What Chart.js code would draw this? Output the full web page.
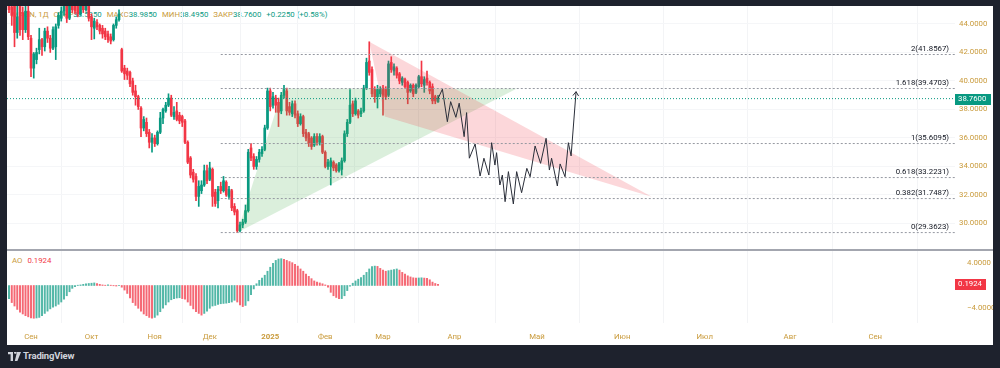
<!DOCTYPE html>
<html>
<head>
<meta charset="utf-8">
<script src="https://cdn.jsdelivr.net/npm/chart.js@4.4.1/dist/chart.umd.min.js"></script>
<style>
    html, body { margin: 0; padding: 0; width: 1000px; height: 368px; overflow: hidden; background: #1e222d; font-family: Roboto, "Liberation Sans", sans-serif; }
    #panel { position: absolute; left: 7px; top: 6px; width: 986px; height: 339px; background: #ffffff; }
    #mainChart { position: absolute; left: 0; top: 0; z-index: 2; }
    #aoChart { position: absolute; left: 0; top: 245px; z-index: 2; }
    #sep { position: absolute; left: 0; top: 243px; width: 986px; height: 2px; background: #a3a6af; z-index: 3; }
    .legend { position: absolute; font-size: 7.8px; line-height: 10px; white-space: nowrap; color: #c99a3a; z-index: 1; }
    .legend span { margin-right: 5px; }
    .val { color: #089981; }
    #logo { position: absolute; left: 8px; top: 350px; color: #d1d4dc; font-size: 9.5px; font-weight: bold; letter-spacing: -0.2px; }
    #logo svg { vertical-align: -2px; margin-right: 2px; }
</style>
</head>
<body>
<div id="panel">
    <div class="legend" style="left:5px; top:4px;">
        <span>MAGN, 1Д</span><span>ОТКР<span class="val" style="margin:0">38.5350</span></span><span>МАКС<span class="val" style="margin:0">38.9850</span></span><span>МИН<span class="val" style="margin:0">38.4950</span></span><span>ЗАКР<span class="val" style="margin:0">38.7600</span></span><span class="val">+0.2250 (+0.58%)</span>
    </div>
    <div class="legend" style="left:5px; top:250px;">
        <span>AO</span><span style="color:#f23645">0.1924</span>
    </div>
    <canvas id="mainChart" width="986" height="244"></canvas>
    <div id="sep"></div>
    <canvas id="aoChart" width="986" height="94"></canvas>
</div>
<div id="logo"><svg width="13" height="9" viewBox="0 0 13 9"><path d="M0 0h5v9H2.6V2.3H0z M6 0.5a1.3 1.3 0 1 1 0 .01z M9 0h4l-3.6 9H6.8z" fill="#d1d4dc"/></svg>TradingView</div>

<script>
// свечи (дневные), индекс = номер бара
const candleOpen = [45.8, 45.2, 45.6, 43.4, 45.3, 44.8, 43.6, 44.9, 43.0, 40.9,
    41.5, 42.2, 42.9, 42.4, 43.5, 43.0, 42.3, 42.4, 43.9, 44.4,
    44.9, 45.6, 44.4, 45.5, 45.4, 45.3, 44.7, 45.5, 45.0, 45.6,
    44.5, 43.7, 44.1, 43.9, 43.7, 43.5, 43.3, 43.1, 42.9, 43.9,
    44.3, 42.2, 40.9, 40.7, 40.6, 40.0, 39.3, 38.9, 38.1, 36.7,
    37.1, 36.4, 35.7, 36.0, 35.6, 36.4, 37.4, 37.9, 38.3, 38.8,
    37.5, 37.9, 37.6, 37.5, 37.2, 35.7, 34.6, 33.6, 33.3, 31.9,
    32.3, 32.7, 33.7, 33.1, 33.8, 32.2, 31.6, 32.6, 32.3, 32.9,
    31.9, 32.3, 31.2, 30.9, 29.5, 29.9, 30.1, 30.9, 35.3, 34.7,
    34.0, 34.5, 34.9, 35.2, 36.7, 39.3, 38.3, 38.8, 38.5, 37.9,
    39.0, 39.3, 38.2, 37.7, 38.4, 37.7, 37.0, 37.5, 36.4, 36.3,
    36.0, 35.5, 36.1, 35.7, 36.1, 35.0, 34.0, 34.0, 34.3, 34.1,
    33.7, 33.8, 34.4, 36.3, 37.1, 38.4, 37.7, 37.9, 37.7, 37.9,
    39.5, 41.4, 40.8, 39.4, 38.9, 39.1, 39.5, 39.4, 39.0, 41.3,
    40.7, 40.9, 40.5, 39.9, 40.1, 39.9, 39.3, 39.7, 39.2, 39.6,
    40.3, 39.7, 40.2, 39.9, 39.6, 38.9, 38.535];
const candleHigh = [46.2, 45.9, 45.9, 45.4, 45.5, 45.2, 45.5, 45.4, 43.2, 42.0,
    42.3, 43.7, 43.0, 43.7, 43.8, 43.2, 43.8, 44.0, 44.8, 45.2,
    46.0, 45.9, 46.0, 46.1, 45.9, 45.8, 46.0, 46.2, 46.0, 45.9,
    44.7, 44.4, 44.3, 44.0, 43.9, 43.7, 43.5, 43.3, 44.0, 44.5,
    45.0, 42.3, 41.1, 40.9, 40.7, 40.2, 39.7, 39.0, 38.2, 37.5,
    37.4, 36.6, 36.3, 36.2, 36.5, 37.8, 38.1, 38.5, 39.1, 39.0,
    38.2, 38.5, 37.8, 37.6, 37.3, 35.8, 34.7, 33.8, 33.5, 33.0,
    33.0, 34.1, 34.1, 34.3, 33.9, 32.4, 32.6, 32.9, 33.3, 33.0,
    32.6, 32.4, 31.4, 31.0, 30.1, 30.3, 31.3, 35.2, 35.6, 34.9,
    34.7, 35.2, 35.4, 36.9, 39.5, 39.5, 39.2, 39.0, 38.8, 39.2,
    39.7, 39.5, 38.5, 38.6, 38.6, 37.9, 37.7, 37.6, 36.6, 36.4,
    36.1, 36.3, 36.3, 36.3, 36.2, 35.1, 34.5, 34.6, 34.4, 34.2,
    34.3, 34.6, 36.5, 37.3, 39.4, 38.6, 38.8, 38.0, 38.1, 39.7,
    41.6, 42.75, 41.0, 39.6, 39.7, 39.6, 39.7, 39.6, 41.4, 41.7,
    41.2, 41.0, 40.6, 40.3, 40.2, 40.0, 39.8, 39.8, 39.8, 40.4,
    41.4, 40.3, 40.7, 40.0, 39.8, 39.0, 38.985];
const candleLow = [44.8, 43.9, 42.4, 43.0, 43.2, 42.9, 43.4, 42.9, 40.3, 40.2,
    41.2, 41.9, 41.8, 42.1, 42.7, 42.0, 42.2, 41.5, 43.7, 44.2,
    44.6, 44.1, 44.3, 44.8, 44.7, 44.5, 44.6, 44.8, 44.9, 44.2,
    42.9, 42.95, 43.6, 43.3, 43.0, 42.9, 42.7, 42.6, 42.8, 43.7,
    44.2, 40.6, 40.1, 40.1, 39.6, 39.0, 38.3, 38.0, 36.1, 36.5,
    36.1, 35.3, 35.0, 35.4, 35.5, 36.3, 37.0, 37.8, 38.2, 37.5,
    37.3, 37.2, 37.0, 36.8, 35.6, 34.2, 33.2, 32.9, 31.6, 31.2,
    32.1, 32.6, 32.8, 33.0, 31.2, 31.2, 31.1, 32.1, 32.2, 31.9,
    31.7, 30.9, 30.6, 29.3623, 29.4, 29.7, 30.0, 30.8, 34.4, 33.8,
    33.8, 34.3, 34.7, 35.1, 36.6, 37.9, 38.1, 37.8, 36.8, 37.7,
    38.8, 37.6, 37.6, 37.5, 37.4, 36.8, 36.9, 36.1, 35.8, 35.4,
    35.2, 35.4, 35.5, 35.5, 34.9, 33.9, 33.8, 32.7, 33.7, 33.6,
    33.6, 33.4, 34.3, 36.1, 37.0, 37.5, 37.6, 37.4, 37.5, 37.8,
    39.4, 40.4, 38.9, 38.5, 38.1, 38.9, 37.6, 38.7, 38.9, 40.6,
    40.4, 40.2, 39.8, 39.7, 39.5, 38.4, 39.2, 38.9, 39.1, 39.5,
    39.6, 39.2, 39.7, 39.1, 38.4, 38.4, 38.495];
const candleClose = [45.0, 44.6, 43.4, 44.5, 43.6, 43.6, 44.9, 43.1, 40.9, 41.9,
    42.0, 42.9, 42.4, 43.5, 43.0, 42.3, 43.6, 43.8, 44.6, 44.9,
    45.6, 44.4, 45.5, 45.0, 44.9, 44.7, 45.5, 45.0, 45.6, 44.4,
    43.8, 44.2, 43.8, 43.5, 43.3, 43.1, 42.9, 42.8, 43.9, 44.3,
    44.7, 40.7, 40.5, 40.4, 39.8, 39.2, 38.9, 38.2, 36.7, 37.3,
    36.3, 35.7, 36.0, 35.6, 36.4, 37.4, 38.0, 38.3, 38.8, 37.6,
    37.8, 37.3, 37.2, 37.1, 35.7, 34.3, 33.4, 33.1, 31.9, 32.6,
    32.7, 33.7, 33.0, 33.9, 31.9, 31.4, 32.4, 32.3, 33.0, 32.0,
    32.4, 31.1, 30.8, 29.5, 29.9, 30.1, 30.9, 35.0, 34.6, 34.0,
    34.5, 35.0, 35.2, 36.7, 39.3, 38.2, 38.9, 38.3, 37.8, 39.0,
    39.4, 37.9, 37.8, 38.4, 37.6, 37.0, 37.5, 36.3, 36.0, 35.6,
    35.4, 36.1, 35.7, 36.1, 35.0, 34.0, 34.3, 34.4, 33.9, 33.7,
    34.2, 34.4, 36.3, 37.1, 38.3, 37.7, 38.6, 37.6, 37.9, 39.5,
    41.3, 40.6, 39.1, 38.9, 39.4, 39.4, 39.0, 38.9, 41.2, 40.8,
    41.0, 40.4, 40.0, 40.2, 39.6, 39.2, 39.7, 39.1, 39.7, 40.3,
    39.8, 40.1, 39.9, 39.3, 38.6, 38.6, 38.76];

// Awesome Oscillator
const aoValues = [-2.3, -3.0, -3.6, -4.2, -4.7, -5.0, -5.3, -5.5, -5.7, -5.75,
    -5.7, -5.6, -5.3, -4.9, -4.5, -4.1, -3.8, -3.6, -3.3, -2.9,
    -2.4, -1.8, -1.1, -0.5, -0.2, 0.05, 0.1, 0.2, 0.3, 0.35,
    0.4, 0.45, 0.35, 0.2, 0.1, 0.05, 0.1, 0.05, -0.05, -0.1,
    -0.05, -0.3, -0.8, -1.4, -2.2, -3.0, -3.5, -4.0, -4.5, -5.0,
    -5.3, -5.6, -5.75, -5.6, -5.2, -4.6, -4.0, -3.4, -2.9, -2.5,
    -2.3, -2.2, -2.15, -2.3, -2.4, -2.9, -3.5, -4.1, -4.6, -4.9,
    -5.2, -4.9, -4.5, -4.0, -3.6, -3.5, -3.3, -3.2, -3.15, -3.1,
    -3.0, -2.9, -2.6, -2.9, -3.4, -3.7, -3.5, -2.7, -1.6, -0.6,
    0.3, 0.9, 1.3, 1.8, 2.5, 3.2, 3.9, 4.4, 4.65, 4.7,
    4.6, 4.4, 4.2, 4.0, 3.7, 3.4, 2.9, 2.5, 2.0, 1.6,
    1.2, 0.8, 0.6, 0.45, 0.3, 0.1, -0.3, -1.2, -1.8, -2.1,
    -2.3, -2.3, -1.8, -0.9, -0.1, 0.4, 0.8, 1.1, 1.4, 1.8,
    2.3, 2.9, 3.3, 3.4, 3.35, 3.0, 2.7, 2.5, 2.6, 2.7,
    2.8, 2.9, 2.7, 2.3, 2.0, 1.7, 1.5, 1.35, 1.3, 1.32,
    1.35, 1.3, 1.25, 1.0, 0.6, 0.35, 0.1924];

const priceTicks = [30, 32, 34, 36, 38, 40, 42, 44];
const aoTicks = [4, -4];
const monthLabels = ["Сен", "Окт", "Ноя", "Дек", "2025", "Фев", "Мар", "Апр", "Май", "Июн", "Июл", "Авг", "Сен"];
const monthIdx = [8, 30, 53, 73, 95, 115, 136, 162, 192, 223, 253, 284, 315];

// фибо-расширение
const fibLevels = ["0", "0.382", "0.618", "1", "1.618", "2"];
const fibPrices = [29.3623, 31.7487, 33.2231, 35.6095, 39.4703, 41.8567];
const fibStart = 77;

// треугольники
const greenTriIdx = [83, 99.6, 184.7, 83];
const greenTriPrice = [29.3623, 39.4703, 39.4703, 29.3623];
const redTriIdx = [131, 136.7, 233.7, 131];
const redTriPrice = [42.75, 37.5, 31.88, 42.75];

// прогнозная траектория
const pathIdx = [156, 157.6, 159.4, 160.6, 162.5, 163.7, 165.5, 166.4, 167.4, 169.5,
    171.3, 172.7, 174.5, 175.5, 176.7, 177.3, 178.5, 179.4, 180.4, 181.6,
    183.4, 184.6, 186.4, 188.3, 189.5, 191.3, 193.3, 195.3, 196.5, 197.3,
    199.4, 200.4, 202.2, 203.4, 204.4, 206.2];
const pathPrice = [38.76, 39.42, 37.14, 38.55, 37.45, 38.44, 36.09, 37.78, 34.58, 35.58,
    33.33, 34.58, 33.40, 35.67, 34.10, 34.97, 32.70, 33.40, 31.53, 33.64,
    31.37, 33.64, 32.16, 33.87, 33.28, 35.44, 34.22, 35.98, 33.75, 34.58,
    32.63, 34.18, 33.28, 35.67, 34.74, 39.25];

const lastPrice = 38.76;
const lastAO = 0.1924;

const xMin = -0.73;
const xMax = 344;
const UP = "#089981";
const DOWN = "#f23645";
const GOLD = "#c99a3a";
const FONT = "Roboto, 'Liberation Sans', sans-serif";
const FSIZE = 7.8;

function pts(xs, ys) {
    return xs.map(function (x, i) { return {x: x, y: ys[i]}; });
}

function fixWidth(w) {
    return function (scale) {
        scale.width = w;
        scale.paddingTop = 0;
        scale.paddingBottom = 0;
    };
}

function xScale(showLabels) {
    return {
        type: "linear",
        min: xMin,
        max: xMax,
        offset: false,
        border: {display: false},
        grid: {color: "#f3f4f6", drawTicks: false},
        afterBuildTicks: function (scale) {
            scale.ticks = monthIdx.map(function (v) { return {value: v}; });
        },
        afterFit: function (scale) {
            scale.height = showLabels ? 22 : 0;
            scale.paddingLeft = 0;
            scale.paddingRight = 0;
        },
        ticks: {
            display: showLabels,
            padding: 9,
            maxRotation: 0,
            autoSkip: false,
            color: GOLD,
            font: function (c) {
                let bold = c.tick && c.tick.value === monthIdx[4];
                return {family: FONT, size: FSIZE, weight: bold ? "bold" : "normal"};
            },
            callback: function (value) {
                let k = monthIdx.indexOf(value);
                return k >= 0 ? monthLabels[k] : "";
            }
        }
    };
}

function priceTag(id, scaleId, value, text, color, w) {
    return {
        id: id,
        afterDraw: function (chart) {
            const s = chart.scales[scaleId];
            const ctx = chart.ctx;
            const yy = Math.round(s.getPixelForValue(value));
            ctx.save();
            ctx.fillStyle = color;
            ctx.fillRect(s.left, yy - 5, w, 11);
            ctx.fillStyle = "#ffffff";
            ctx.font = FSIZE + "px " + FONT;
            ctx.textAlign = "left";
            ctx.textBaseline = "middle";
            ctx.fillText(text, s.left + 3, yy + 0.5);
            ctx.restore();
        }
    };
}

const fibLabelsPlugin = {
    id: "fibLabels",
    afterDatasetsDraw: function (chart) {
        const ctx = chart.ctx;
        const y = chart.scales.y;
        ctx.save();
        ctx.font = FSIZE + "px " + FONT;
        ctx.fillStyle = "#131722";
        ctx.textAlign = "right";
        ctx.textBaseline = "bottom";
        fibPrices.forEach(function (p, i) {
            ctx.fillText(fibLevels[i] + "(" + p.toFixed(4) + ")", chart.chartArea.right - 6, y.getPixelForValue(p) - 2);
        });
        ctx.restore();
    }
};

// стрелка на конце траектории
const arrowPlugin = {
    id: "arrowHead",
    afterDatasetsDraw: function (chart) {
        const idx = chart.data.datasets.findIndex(function (d) { return d.label === "path"; });
        const p = chart.getDatasetMeta(idx).data;
        const a = p[p.length - 2], b = p[p.length - 1];
        const ang = Math.atan2(b.y - a.y, b.x - a.x);
        const ctx = chart.ctx;
        ctx.save();
        ctx.strokeStyle = "#2a2e39";
        ctx.lineWidth = 1;
        ctx.beginPath();
        ctx.moveTo(b.x - 5 * Math.cos(ang - 0.6), b.y - 5 * Math.sin(ang - 0.6));
        ctx.lineTo(b.x, b.y);
        ctx.lineTo(b.x - 5 * Math.cos(ang + 0.6), b.y - 5 * Math.sin(ang + 0.6));
        ctx.stroke();
        ctx.restore();
    }
};

function mainChart() {
    let colors = candleClose.map(function (c, i) { return c >= candleOpen[i] ? UP : DOWN; });
    let wicks = candleLow.map(function (l, i) { return {x: i, y: [l, candleHigh[i]]}; });
    let bodies = candleOpen.map(function (o, i) { return {x: i, y: [o, candleClose[i]]}; });

    let datasets = [{
        type: "bar", label: "wicks", data: wicks, backgroundColor: colors,
        barThickness: 1, grouped: false, order: 10
    }, {
        type: "bar", label: "bodies", data: bodies, backgroundColor: colors,
        barThickness: 2, grouped: false, order: 9
    }, {
        type: "line", label: "greenTri", data: pts(greenTriIdx, greenTriPrice),
        fill: "shape", backgroundColor: "rgba(76, 175, 80, 0.2)", borderColor: "transparent",
        borderWidth: 1, pointRadius: 0, order: 6
    }, {
        type: "line", label: "redTri", data: pts(redTriIdx, redTriPrice),
        fill: "shape", backgroundColor: "rgba(242, 54, 69, 0.2)", borderColor: "transparent",
        borderWidth: 1, pointRadius: 0, order: 5
    }];

    fibPrices.forEach(function (p) {
        datasets.push({
            type: "line", label: "fib", data: [{x: fibStart, y: p}, {x: xMax, y: p}],
            borderColor: "#9598a1", borderWidth: 1, borderDash: [2, 2], pointRadius: 0, fill: false, order: 3
        });
    });

    datasets.push({
        type: "line", label: "last", data: [{x: xMin, y: lastPrice}, {x: xMax, y: lastPrice}],
        borderColor: UP, borderWidth: 1, borderDash: [1, 2], pointRadius: 0, fill: false, order: 3
    });
    datasets.push({
        type: "line", label: "path", data: pts(pathIdx, pathPrice),
        borderColor: "#2a2e39", borderWidth: 1, pointRadius: 0, fill: false, order: 1
    });

    new Chart(document.getElementById("mainChart").getContext("2d"), {
        type: "bar",
        data: {datasets: datasets},
        options: {
            responsive: false,
            animation: false,
            layout: {padding: 0},
            plugins: {legend: {display: false}, tooltip: {enabled: false}},
            scales: {
                x: xScale(false),
                y: {
                    position: "right",
                    min: 28.14,
                    max: 45.26,
                    border: {display: false},
                    grid: {color: "#f5f6f8", drawTicks: false},
                    afterBuildTicks: function (scale) {
                        scale.ticks = priceTicks.map(function (v) { return {value: v}; });
                    },
                    afterFit: fixWidth(38),
                    ticks: {
                        padding: 4,
                        color: GOLD,
                        font: {family: FONT, size: FSIZE},
                        callback: function (v) { return v.toFixed(4); }
                    }
                }
            }
        },
        plugins: [fibLabelsPlugin, arrowPlugin, priceTag("lastTag", "y", lastPrice, lastPrice.toFixed(4), UP, 36)]
    });
}

function aoChart() {
    let colors = aoValues.map(function (v, i) {
        return (i > 0 && v < aoValues[i - 1]) ? "rgba(242, 54, 69, 0.75)" : "rgba(8, 153, 129, 0.7)";
    });
    let bars = aoValues.map(function (v, i) { return {x: i, y: v}; });

    new Chart(document.getElementById("aoChart").getContext("2d"), {
        type: "bar",
        data: {datasets: [{label: "AO", data: bars, backgroundColor: colors, barThickness: 1.3, grouped: false}]},
        options: {
            responsive: false,
            animation: false,
            layout: {padding: 0},
            plugins: {legend: {display: false}, tooltip: {enabled: false}},
            scales: {
                x: xScale(true),
                y: {
                    position: "right",
                    min: -6.58,
                    max: 6.05,
                    border: {display: false},
                    grid: {display: false},
                    afterBuildTicks: function (scale) {
                        scale.ticks = aoTicks.map(function (v) { return {value: v}; });
                    },
                    afterFit: fixWidth(38),
                    ticks: {
                        padding: 4,
                        color: GOLD,
                        font: {family: FONT, size: FSIZE},
                        callback: function (v) { return (v < 0 ? "\u2212" : "") + Math.abs(v).toFixed(4); }
                    }
                }
            }
        },
        plugins: [priceTag("aoTag", "y", lastAO, lastAO.toFixed(4), DOWN, 31)]
    });
}

mainChart();
aoChart();
</script>
</body>
</html>
